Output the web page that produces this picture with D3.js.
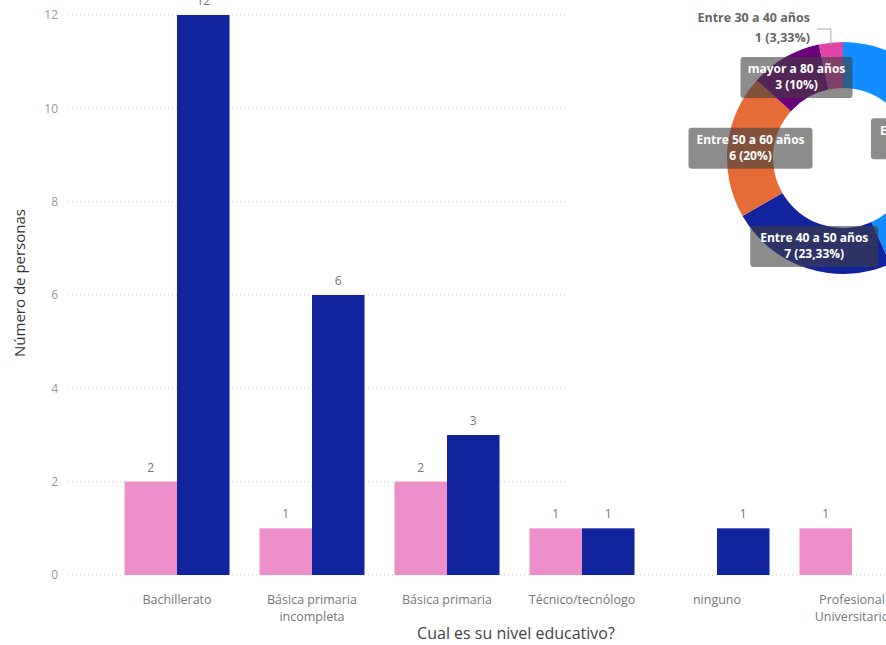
<!DOCTYPE html>
<html><head><meta charset="utf-8">
<script src="https://cdn.jsdelivr.net/npm/d3@7"></script>
<style>
html,body{margin:0;padding:0;background:#fff;}
svg{display:block;}
</style></head>
<body>
<svg id="c" width="886" height="645"></svg>
<script>
// ---- data ----
const categories = [["Bachillerato"], ["Básica primaria", "incompleta"], ["Básica primaria"], ["Técnico/tecnólogo"], ["ninguno"], ["Profesional", "Universitario"]];
const seriesNames = ["Mujer", "Hombre"];
const seriesA = [2, 1, 2, 1, 0, 1];
const seriesB = [12, 6, 3, 1, 1, 0];
const yTicks = [0, 2, 4, 6, 8, 10, 12];
const xTitle = "Cual es su nivel educativo?";
const yTitle = "Número de personas";

const ageGroups = ["Entre 60 a 80 años", "Entre 40 a 50 años", "Entre 50 a 60 años", "mayor a 80 años", "Entre 30 a 40 años"];
const ageCounts = [13, 7, 6, 3, 1];
const ageLabels = ["13 (43,33%)", "7 (23,33%)", "6 (20%)", "3 (10%)", "1 (3,33%)"];

const barColors = ["#EC8FC8", "#12239E"];
const pieColors = ["#118DFF", "#12239E", "#E66C37", "#6B007B", "#E044A7"];

const svg = d3.select("#c");
const keys = categories.map(c => c.join(" "));

const x = d3.scaleBand().domain(keys).range([109.5, 919.5]).paddingInner(0.222).paddingOuter(0.111);
const xs = d3.scaleBand().domain(seriesNames).range([0, x.bandwidth()]);
const y = d3.scaleLinear().domain([0, 12]).range([575, 15]);

// gridlines
svg.append("g").selectAll("line").data(yTicks).join("line")
  .attr("x1", 68).attr("x2", 886)
  .attr("y1", d => y(d)).attr("y2", d => y(d))
  .attr("stroke", "#cfcfcf").attr("stroke-width", 1).attr("stroke-dasharray", "1,3");

// y tick labels
svg.append("g").selectAll("text").data(yTicks).join("text")
  .attr("x", 58).attr("y", d => y(d)).attr("dy", "0.35em")
  .attr("text-anchor", "end").attr("fill", "#999")
  .style("font", "12px 'Open Sans', sans-serif")
  .text(d => d);

// bars
const rows = keys.map((k, i) => ({k, vals: [seriesA[i], seriesB[i]]}));
const g = svg.append("g");
rows.forEach(r => {
  r.vals.forEach((v, j) => {
    if (!v) return;
    const bx = x(r.k) + xs(seriesNames[j]);
    g.append("rect")
      .attr("x", bx).attr("y", y(v))
      .attr("width", xs.bandwidth()).attr("height", y(0) - y(v))
      .attr("fill", barColors[j]);
    g.append("text")
      .attr("x", bx + xs.bandwidth() / 2).attr("y", y(v) - 10)
      .attr("text-anchor", "middle").attr("fill", "#777")
      .style("font", "12px 'Open Sans', sans-serif")
      .text(v);
  });
});

// x tick labels
const xl = svg.append("g");
categories.forEach((lines, i) => {
  const cxp = x(keys[i]) + x.bandwidth() / 2;
  const t = xl.append("text")
    .attr("x", cxp).attr("y", 604)
    .attr("text-anchor", "middle").attr("fill", "#777")
    .style("font", "12.5px 'Open Sans', sans-serif");
  lines.forEach((ln, k) => t.append("tspan").attr("x", cxp).attr("dy", k ? 17 : 0).text(ln));
});

// axis titles
svg.append("text").attr("x", 516).attr("y", 639).attr("text-anchor", "middle")
  .attr("fill", "#444").style("font", "16px 'Open Sans', sans-serif").text(xTitle);
svg.append("text").attr("transform", "translate(25,283) rotate(-90)").attr("text-anchor", "middle")
  .attr("fill", "#333").style("font", "15px 'Open Sans', sans-serif").text(yTitle);

// ---- donut visual overlay ----
svg.append("rect").attr("x", 565).attr("y", 0).attr("width", 321).attr("height", 495).attr("fill", "#fff");

const cx = 843, cy = 158, rO = 116, rI = 70;
const pie = d3.pie().sort(null).value(d => d)(ageCounts);
const arc = d3.arc().innerRadius(rI).outerRadius(rO);
const dg = svg.append("g").attr("transform", `translate(${cx},${cy})`);
dg.selectAll("path").data(pie).join("path").attr("d", arc).attr("fill", (d, i) => pieColors[i]);

// inside labels (boxes)
const boxW = [126, 128, 124, 112];
pie.forEach((p, i) => {
  if (i === 4) return;
  const [lx, ly] = arc.centroid(p);
  const w = boxW[i], h = 41;
  const lg = dg.append("g").attr("transform", `translate(${lx},${ly})`);
  lg.append("rect").attr("x", -w / 2).attr("y", -h / 2).attr("width", w).attr("height", h)
    .attr("rx", 3).attr("fill", "rgba(64,64,64,0.6)");
  const t = lg.append("text").attr("text-anchor", "middle").attr("fill", "#fff")
    .style("font", "bold 12px 'Open Sans', sans-serif");
  t.append("tspan").attr("x", 0).attr("y", -4).text(ageGroups[i]);
  t.append("tspan").attr("x", 0).attr("y", 12).text(ageLabels[i]);
});

// outside label for small slice
const p4 = pie[4];
const mid = (p4.startAngle + p4.endAngle) / 2;
const sx = Math.sin(mid) * rO, sy = -Math.cos(mid) * rO;
dg.append("polyline")
  .attr("points", `${sx},${sy + 2} ${sx},${-129} ${-26},${-129}`)
  .attr("fill", "none").attr("stroke", "#aaa").attr("stroke-width", 1);
const ot = dg.append("text").attr("text-anchor", "end").attr("fill", "#666")
  .style("font", "bold 12.5px 'Open Sans', sans-serif");
ot.append("tspan").attr("x", -33).attr("y", -136).text(ageGroups[4]);
ot.append("tspan").attr("x", -33).attr("y", -116).text(ageLabels[4]);
</script>
</body></html>
